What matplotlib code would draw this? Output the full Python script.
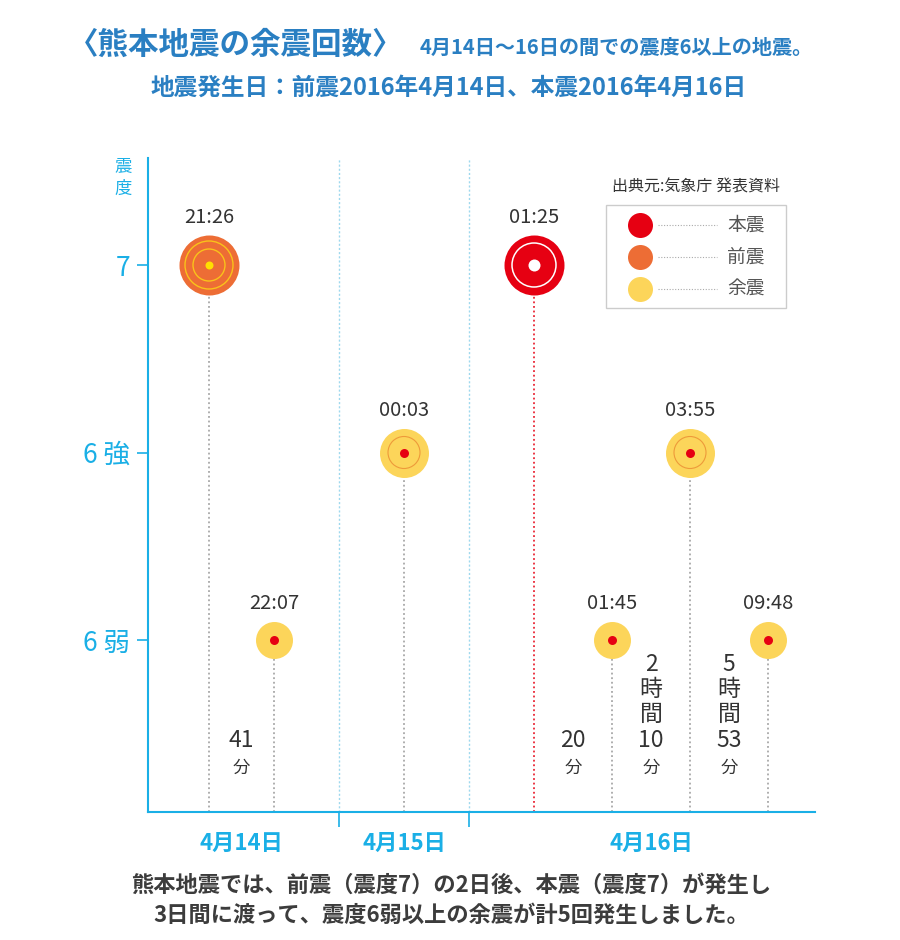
import matplotlib
matplotlib.use("Agg")
import matplotlib.pyplot as plt

plt.rcParams["font.family"] = ["Noto Sans CJK JP", "DejaVu Sans"]

# data
times = ["21:26", "22:07", "00:03", "01:25", "01:45", "03:55", "09:48"]
days = ["4月14日", "4月14日", "4月15日", "4月16日", "4月16日", "4月16日", "4月16日"]
level = [3, 1, 2, 3, 1, 2, 1]          # 1 = 6弱, 2 = 6強, 3 = 7
kind = ["前震", "余震", "余震", "本震", "余震", "余震", "余震"]
level_labels = ["6 弱", "6 強", "7"]
day_names = ["4月14日", "4月15日", "4月16日"]
gap_pairs = [(0, 1), (3, 4), (4, 5), (5, 6)]
gap_text = [["41", "分"], ["20", "分"], ["2", "時", "間", "10", "分"], ["5", "時", "間", "53", "分"]]
legend_kinds = ["本震", "前震", "余震"]

# layout (slot units along x)
slot = [0, 1, 3, 5, 6.2, 7.4, 8.6]
day_bounds = [2.0, 4.0]

RED = "#E60012"
ORANGE = "#ED6D35"
YELLOW = "#FCD55A"
BLUE = "#1AAFE6"
TITLE_BLUE = "#2A7FC2"
DARK = "#333333"

px = 0.72  # points per pixel at dpi 100

fig = plt.figure(figsize=(9, 9.4), dpi=100)
ax = fig.add_axes([148 / 900, 128 / 940, 667 / 900, 654 / 940])
ax.set_xlim(-61 / 65, 606 / 65)
ax.set_ylim(1 - 172 / 187.5, 3 + 107 / 187.5)

for s in ["top", "right"]:
    ax.spines[s].set_visible(False)
for s in ["left", "bottom"]:
    ax.spines[s].set_color(BLUE)
    ax.spines[s].set_linewidth(1.5)

ax.set_yticks([1, 2, 3])
ax.set_yticklabels(level_labels, fontsize=19, color=BLUE)
ax.tick_params(axis="y", length=8, width=1.2, color=BLUE, pad=5)

ax.set_xticks(day_bounds)
ax.set_xticklabels(["", ""])
ax.tick_params(axis="x", length=11, width=1.2, color=BLUE)

# day labels at mean slot of each day's events
for d in day_names:
    xs = [slot[i] for i in range(len(times)) if days[i] == d]
    ax.text(sum(xs) / len(xs), -0.03, d, transform=ax.get_xaxis_transform(),
            ha="center", va="top", fontsize=16, fontweight="bold", color=BLUE)

for b in day_bounds:
    ax.axvline(b, color="#9ED8EE", lw=1, ls=(0, (1.5, 1.5)), zorder=1)

# circle styles: outer size in px radius
radius = {3: 30, 2: 24.5, 1: 18.5}
ybot = ax.get_ylim()[0]
for i in range(len(times)):
    x, y, k = slot[i], level[i], kind[i]
    r = radius[y]
    stem_col = RED if k == "本震" else "#999999"
    ax.plot([x, x], [ybot, y], color=stem_col, lw=1.1, ls=(0, (1.2, 1.8)), zorder=2)
    if k == "本震":
        ax.scatter(x, y, s=(2 * r * px) ** 2, color=RED, lw=0, zorder=3)
        ax.scatter(x, y, s=(44 * px) ** 2, facecolor="none", edgecolor="white", lw=1.1, zorder=4)
        ax.scatter(x, y, s=(12 * px) ** 2, color="white", lw=0, zorder=4)
    elif k == "前震":
        ax.scatter(x, y, s=(2 * r * px) ** 2, color=ORANGE, lw=0, zorder=3)
        for rr in (24, 16):
            ax.scatter(x, y, s=(2 * rr * px) ** 2, facecolor="none", edgecolor="#F9C21A", lw=1.0, zorder=4)
        ax.scatter(x, y, s=(8 * px) ** 2, color="#FFE000", lw=0, zorder=4)
    else:
        ax.scatter(x, y, s=(2 * r * px) ** 2, color=YELLOW, lw=0, zorder=3)
        if y == 2:
            ax.scatter(x, y, s=(32 * px) ** 2, facecolor="none", edgecolor="#EE9A3A", lw=0.8, zorder=4)
        ax.scatter(x, y, s=(9 * px) ** 2, color=RED, lw=0, zorder=4)
    ax.annotate(times[i], (x, y), xytext=(0, (r + 18) * px), textcoords="offset points",
                ha="center", va="center", fontsize=14.5, color=DARK)

# elapsed time between events
base_y = 1 - 128 / 187.5
step = 25 / 187.5
for (a, b), parts in zip(gap_pairs, gap_text):
    xm = (slot[a] + slot[b]) / 2
    n = len(parts)
    for j, t in enumerate(parts):
        yy = base_y + (n - 1 - j) * step
        if t == "分":
            ax.text(xm, yy, t, ha="center", va="center", fontsize=12.5, color=DARK)
        else:
            ax.text(xm, yy + (0.015 if j == n - 2 else 0.02), t, ha="center", va="center",
                    fontsize=16.5, color=DARK)

# legend drawn by hand in axes fraction
def afx(p):
    return (p - 148) / 667


def afy(p):
    return 1 - (p - 158) / 654


ax.add_patch(plt.Rectangle((afx(606), afy(308)), afx(786) - afx(606), afy(205) - afy(308),
                           transform=ax.transAxes, fill=False, ec="#CCCCCC", lw=1, zorder=5))
ax.text(afx(696), afy(187), "出典元:気象庁 発表資料", transform=ax.transAxes,
        ha="center", va="center", fontsize=11.5, color=DARK)
leg_col = {"本震": RED, "前震": ORANGE, "余震": YELLOW}
for j, k in enumerate(legend_kinds):
    yy = afy(225 + j * 32)
    ax.scatter(afx(640), yy, s=(25 * px) ** 2, color=leg_col[k], lw=0, transform=ax.transAxes, zorder=6)
    ax.plot([afx(658), afx(717)], [yy, yy], color="#AAAAAA", lw=0.8, ls=(0, (1, 1.5)),
            transform=ax.transAxes, zorder=6)
    ax.text(afx(727), yy, k, transform=ax.transAxes, ha="left", va="center",
            fontsize=13.5, color="#555555")

fig.text(123 / 900, 1 - 178 / 940, "震\n度", ha="center", va="center", fontsize=12.5,
         color=BLUE, linespacing=1.3)

# titles
fig.text(68 / 900, 1 - 45 / 940, "〈熊本地震の余震回数〉", ha="left", va="center",
         fontsize=22, fontweight="bold", color=TITLE_BLUE)
fig.text(420 / 900, 1 - 47 / 940, "4月14日〜16日の間での震度6以上の地震。", ha="left", va="center",
         fontsize=14.5, fontweight="bold", color=TITLE_BLUE)
fig.text(449 / 900, 1 - 88 / 940, "地震発生日：前震2016年4月14日、本震2016年4月16日",
         ha="center", va="center", fontsize=17, fontweight="bold", color=TITLE_BLUE)

fig.text(451 / 900, 1 - 885 / 940, "熊本地震では、前震（震度7）の2日後、本震（震度7）が発生し",
         ha="center", va="center", fontsize=16, fontweight="bold", color="#3C3C3C")
fig.text(451 / 900, 1 - 915 / 940, "3日間に渡って、震度6弱以上の余震が計5回発生しました。",
         ha="center", va="center", fontsize=16, fontweight="bold", color="#3C3C3C")

fig.savefig("out.png", dpi=100)
